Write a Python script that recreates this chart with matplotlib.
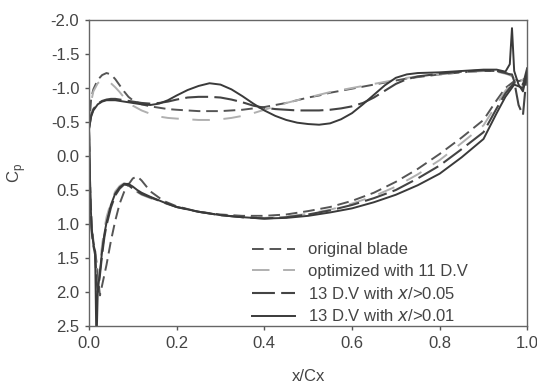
import matplotlib
matplotlib.use("Agg")
import matplotlib.pyplot as plt

plt.rcParams['font.family'] = ['Liberation Sans', 'DejaVu Sans']
plt.rcParams['axes.unicode_minus'] = False

# suction side (x from LE to TE)
xs = [0.0, 0.005, 0.01, 0.02, 0.03, 0.04, 0.05, 0.06, 0.07, 0.08, 0.09, 0.1, 0.12, 0.14,
      0.16, 0.18, 0.2, 0.225, 0.25, 0.275, 0.3, 0.325, 0.35, 0.375, 0.4, 0.425, 0.45,
      0.475, 0.5, 0.525, 0.55, 0.575, 0.6, 0.625, 0.65, 0.675, 0.7, 0.725, 0.75, 0.8,
      0.85, 0.9, 0.93, 0.95, 0.96, 0.965, 0.97, 0.98, 0.99, 1.0]
# pressure side (x from LE to TE)
xp = [0.0, 0.003, 0.006, 0.01, 0.014, 0.017, 0.02, 0.025, 0.03, 0.035, 0.04, 0.05, 0.06,
      0.07, 0.08, 0.09, 0.1, 0.11, 0.12, 0.14, 0.17, 0.2, 0.25, 0.3, 0.35, 0.4, 0.45,
      0.5, 0.55, 0.6, 0.65, 0.7, 0.75, 0.8, 0.85, 0.9, 0.93, 0.95, 0.97, 0.99, 1.0]

orig_s = [-0.4, -0.85, -0.98, -1.12, -1.19, -1.22, -1.2, -1.13, -1.04, -0.95, -0.87, -0.82,
          -0.76, -0.73, -0.71, -0.69, -0.68, -0.67, -0.66, -0.66, -0.66, -0.67, -0.68,
          -0.7, -0.72, -0.75, -0.78, -0.82, -0.86, -0.89, -0.93, -0.96, -0.99, -1.02,
          -1.05, -1.08, -1.11, -1.14, -1.16, -1.2, -1.23, -1.25, -1.25, -1.22, -1.2,
          -1.18, -1.15, -1.1, -1.12, -1.15]
orig_p = [-0.4, 0.5, 1.0, 1.25, 1.4, 1.55, 1.75, 2.05, 1.9, 1.75, 1.6, 1.25, 0.95, 0.7,
          0.53, 0.42, 0.33, 0.3, 0.36, 0.52, 0.66, 0.74, 0.82, 0.86, 0.88, 0.88, 0.86,
          0.81, 0.75, 0.66, 0.54, 0.38, 0.19, -0.03, -0.27, -0.53, -0.82, -1.0, -1.1,
          -1.12, -1.15]

dv11_s = [-0.4, -0.8, -0.95, -1.07, -1.12, -1.11, -1.07, -1.01, -0.94, -0.86, -0.79,
          -0.74, -0.67, -0.62, -0.58, -0.56, -0.55, -0.54, -0.53, -0.53, -0.54, -0.56,
          -0.59, -0.63, -0.68, -0.73, -0.78, -0.82, -0.86, -0.9, -0.94, -0.97, -1.0,
          -1.03, -1.06, -1.09, -1.12, -1.15, -1.17, -1.2, -1.23, -1.25, -1.24, -1.21,
          -1.19, -1.17, -1.14, -1.1, -1.12, -1.15]
dv11_p = [-0.4, 0.55, 1.05, 1.3, 1.45, 1.7, 1.9, 1.6, 1.3, 1.08, 0.9, 0.68, 0.52, 0.44,
          0.4, 0.42, 0.48, 0.53, 0.57, 0.62, 0.69, 0.75, 0.82, 0.87, 0.9, 0.91, 0.89,
          0.85, 0.79, 0.7, 0.59, 0.45, 0.27, 0.06, -0.19, -0.45, -0.76, -0.96, -1.1,
          -1.12, -1.15]

dv05_s = [-0.4, -0.6, -0.69, -0.77, -0.81, -0.83, -0.84, -0.84, -0.83, -0.82, -0.81, -0.8,
          -0.78, -0.77, -0.78, -0.8, -0.83, -0.86, -0.87, -0.87, -0.86, -0.83, -0.79,
          -0.74, -0.71, -0.69, -0.68, -0.67, -0.67, -0.67, -0.68, -0.7, -0.73, -0.78,
          -0.86, -0.96, -1.06, -1.13, -1.17, -1.21, -1.24, -1.26, -1.25, -1.22, -1.2,
          -1.2, -1.1, -0.75, -0.6, -1.3]
dv05_p = [-0.4, 0.6, 1.1, 1.32, 1.45, 1.8, 2.0, 1.75, 1.45, 1.2, 1.02, 0.76, 0.58, 0.48,
          0.42, 0.43, 0.48, 0.52, 0.56, 0.61, 0.68, 0.75, 0.82, 0.87, 0.9, 0.92, 0.9,
          0.86, 0.8, 0.72, 0.62, 0.5, 0.33, 0.14, -0.1, -0.35, -0.7, -0.92, -1.08,
          -1.05, -1.3]

dv01_s = [-0.4, -0.58, -0.67, -0.76, -0.8, -0.82, -0.82, -0.82, -0.81, -0.8, -0.79, -0.78,
          -0.76, -0.75, -0.77, -0.82, -0.89, -0.97, -1.03, -1.07, -1.05, -0.98, -0.88,
          -0.77, -0.67, -0.59, -0.53, -0.49, -0.47, -0.46, -0.48, -0.54, -0.63, -0.76,
          -0.9, -1.04, -1.15, -1.2, -1.22, -1.23, -1.25, -1.27, -1.27, -1.24, -1.35,
          -1.88, -1.25, -1.05, -0.95, -1.25]
dv01_p = [-0.4, 0.6, 1.05, 1.3, 1.4, 2.8, 2.0, 1.7, 1.4, 1.15, 0.98, 0.72, 0.55, 0.46,
          0.41, 0.41, 0.45, 0.5, 0.54, 0.6, 0.68, 0.75, 0.82, 0.87, 0.9, 0.92, 0.91,
          0.88, 0.83, 0.77, 0.68, 0.57, 0.43, 0.26, 0.02, -0.25, -0.63, -0.87, -1.05,
          -1.0, -1.25]

labels = ["original blade", "optimized with 11 D.V",
          "13 D.V with $\\it{x}$/>0.05", "13 D.V with $\\it{x}$/>0.01"]
yticks = [-2.0, -1.5, -1.0, -0.5, 0.0, 0.5, 1.0, 1.5, 2.0, 2.5]
xticks = [0.0, 0.2, 0.4, 0.6, 0.8, 1.0]

series = [(orig_s, orig_p), (dv11_s, dv11_p), (dv05_s, dv05_p), (dv01_s, dv01_p)]
styles = [dict(color='#555555', lw=1.4, dashes=(6, 3)),
          dict(color='#b0b0b0', lw=1.4, dashes=(9, 7)),
          dict(color='#444444', lw=1.5, dashes=(11, 3)),
          dict(color='#3a3a3a', lw=1.4, linestyle='-')]

fig = plt.figure(figsize=(5.37, 3.83), dpi=100)
ax = fig.add_axes([0.1657, 0.1488, 0.8163, 0.799])

for (s, p), st, lab in zip(series, styles, labels):
    ax.plot(xs, s, label=lab, **st)
    ax.plot(xp, p, **st)

ax.set_xlim(0, 1.0)
ax.set_ylim(2.5, -2.0)
ax.set_xticks(xticks)
ax.set_yticks(yticks)
ax.set_xticklabels([f"{v:.1f}" for v in xticks])
ax.set_yticklabels([f"{v:.1f}" for v in yticks])
ax.tick_params(direction='out', length=3, width=1, colors='#555555',
               labelcolor='#444444', labelsize=12, pad=4)
for sp in ax.spines.values():
    sp.set_color('#666666')
    sp.set_linewidth(1.0)

ax.set_xlabel("x/Cx", fontsize=12, color='#444444')
ax.set_ylabel("C$_\\mathregular{p}$", fontsize=12, color='#444444')
ax.xaxis.set_label_coords(0.5, -0.14)
ax.yaxis.set_label_coords(-0.138, 0.5)

leg = ax.legend(loc='lower left', bbox_to_anchor=(0.371, 0.005), frameon=False,
                fontsize=12, handlelength=2.6, handletextpad=0.8, labelspacing=0.4,
                borderpad=0, borderaxespad=0)
for t in leg.get_texts():
    t.set_color('#444444')

fig.savefig("out.png", dpi=100)
